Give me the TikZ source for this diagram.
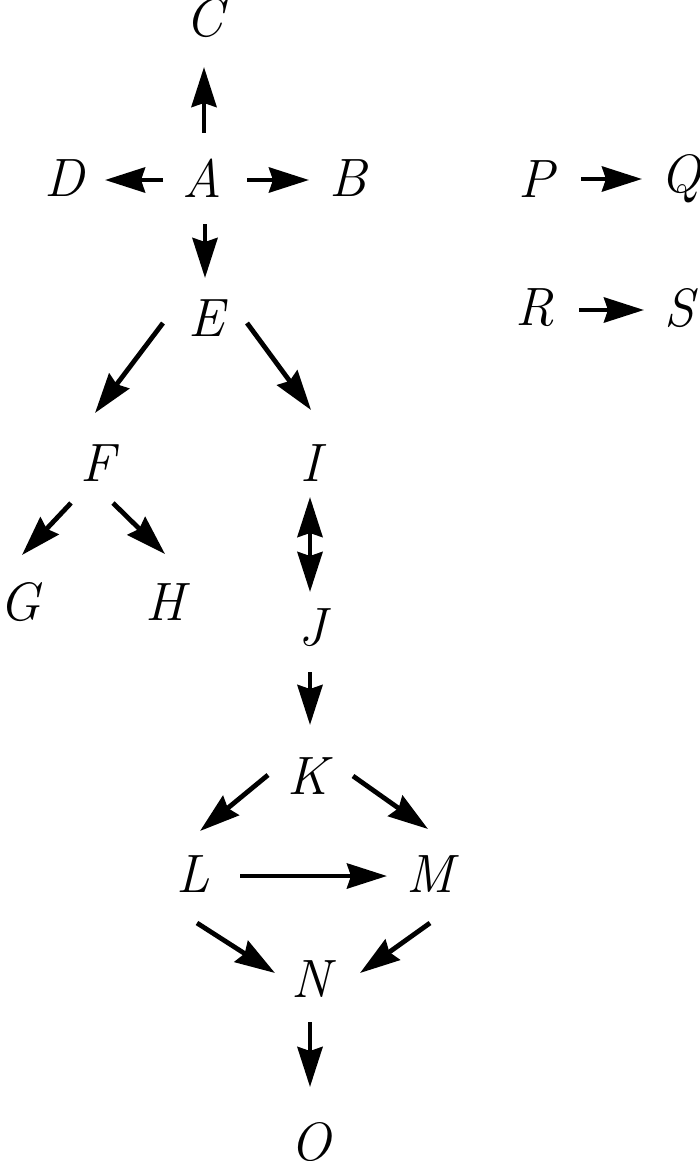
\documentclass[tikz,border=0pt]{standalone}
\usetikzlibrary{arrows.meta}
\begin{document}
\begin{tikzpicture}[x=0.5pt,y=-0.5pt,
  lbl/.style={inner sep=0pt,font=\fontsize{27}{30}\selectfont\itshape},
  arr/.style={line width=2.4pt,-{Stealth[length=20pt,width=12.5pt,inset=2pt]}},
  darr/.style={line width=2.4pt,{Stealth[length=20pt,width=12.5pt,inset=2pt]}-{Stealth[length=20pt,width=12.5pt,inset=2pt]}}]
\useasboundingbox (0,0) rectangle (700,1161);
\node[lbl] (C) at (204,18) {C};
\node[lbl] (A) at (202,178) {A};
\node[lbl] (D) at (64,178) {D};
\node[lbl] (B) at (348,178) {B};
\node[lbl] (E) at (206,318) {E};
\node[lbl] (F) at (98,463) {F};
\node[lbl] (I) at (311,463) {I};
\node[lbl] (G) at (20,602) {G};
\node[lbl] (H) at (165,602) {H};
\node[lbl] (J) at (312,628) {J};
\node[lbl] (K) at (308,776) {K};
\node[lbl] (L) at (193,874) {L};
\node[lbl] (M) at (430,874) {M};
\node[lbl] (N) at (311,979) {N};
\node[lbl] (O) at (311,1142) {O};
\node[lbl] (P) at (536,179) {P};
\node[lbl] (Q) at (681,179) {Q};
\node[lbl] (R) at (535,308) {R};
\node[lbl] (S) at (679,308) {S};
\draw[arr] ([shift={(2,-45)}]A.center) -- ([shift={(0,49)}]C.center);
\draw[arr] ([shift={(-39,2)}]A.center) -- ([shift={(41,2)}]D.center);
\draw[arr] ([shift={(45,2)}]A.center) -- ([shift={(-39,2)}]B.center);
\draw[arr] ([shift={(3,46)}]A.center) -- ([shift={(-1,-40)}]E.center);
\draw[arr] ([shift={(-43,5)}]E.center) -- ([shift={(-3,-50)}]F.center);
\draw[arr] ([shift={(41,5)}]E.center) -- ([shift={(0,-53)}]I.center);
\draw[arr] ([shift={(-27,40)}]F.center) -- ([shift={(2,-47)}]G.center);
\draw[arr] ([shift={(15,40)}]F.center) -- ([shift={(0,-48)}]H.center);
\draw[darr] ([shift={(-1,34)}]I.center) -- ([shift={(-2,-36)}]J.center);
\draw[arr] ([shift={(-2,44)}]J.center) -- ([shift={(2,-51)}]K.center);
\draw[arr] ([shift={(-40,-1)}]K.center) -- ([shift={(7,-43)}]L.center);
\draw[arr] ([shift={(45,0)}]K.center) -- ([shift={(-2,-45)}]M.center);
\draw[arr] ([shift={(47,2)}]L.center) -- ([shift={(-43,2)}]M.center);
\draw[arr] ([shift={(4,49)}]L.center) -- ([shift={(-36,-6)}]N.center);
\draw[arr] ([shift={(0,49)}]M.center) -- ([shift={(49,-6)}]N.center);
\draw[arr] ([shift={(-1,43)}]N.center) -- ([shift={(-1,-55)}]O.center);
\draw[arr] ([shift={(45,0)}]P.center) -- ([shift={(-39,0)}]Q.center);
\draw[arr] ([shift={(44,2)}]R.center) -- ([shift={(-35,2)}]S.center);
\end{tikzpicture}
\end{document}
